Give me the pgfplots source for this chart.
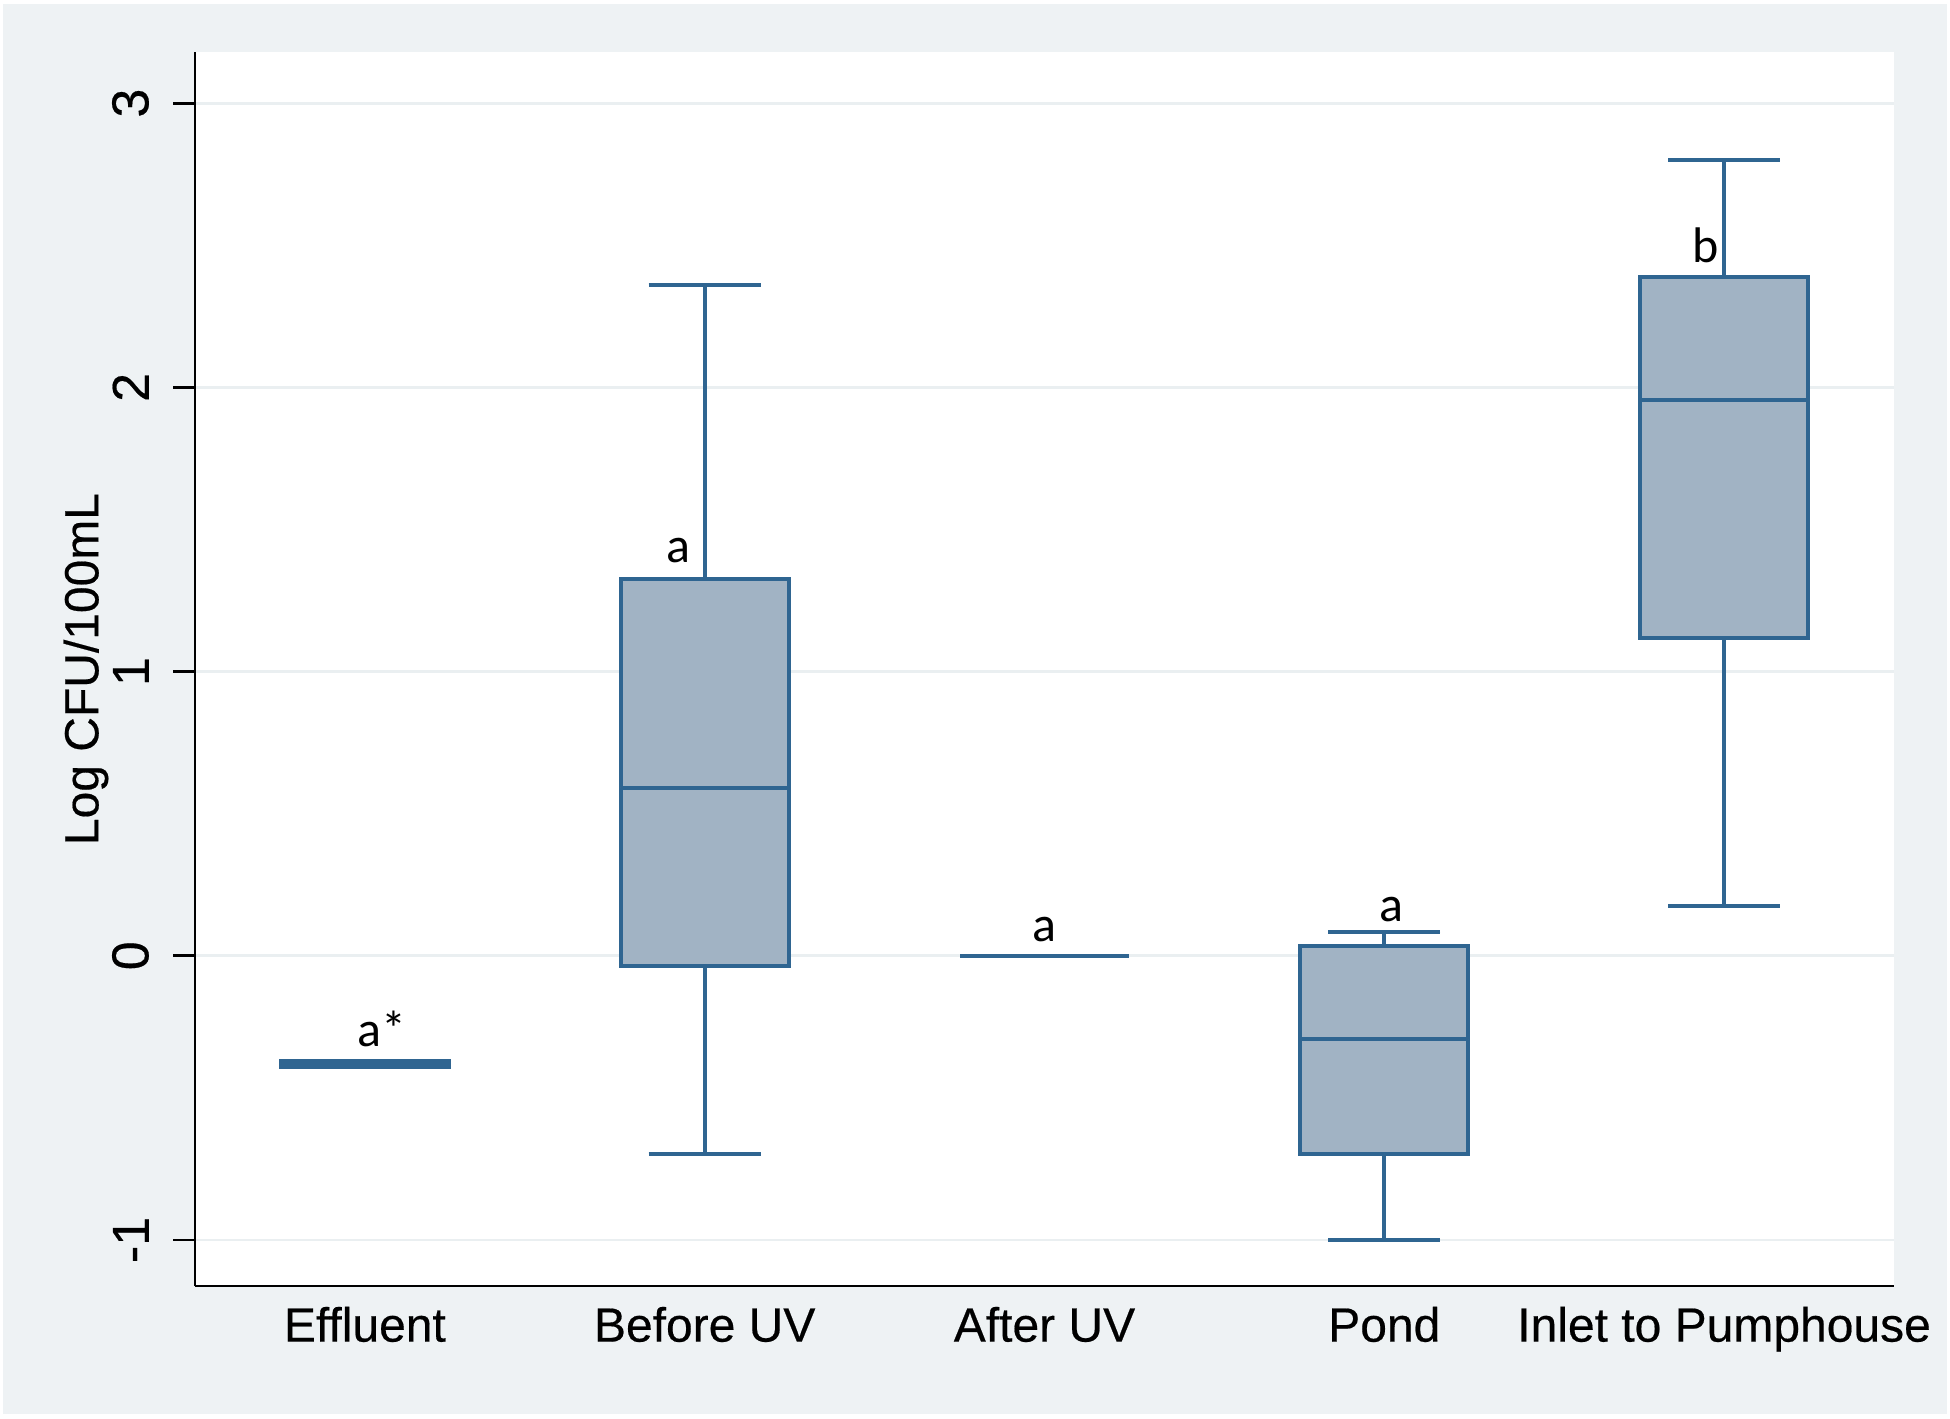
\documentclass[border=0pt]{standalone}
\usepackage{fontspec}
\setmainfont{Liberation Sans}[BoldFont={Liberation Sans}, BoldFeatures={FakeBold=0.4}]
\newfontfamily\calib{Carlito}
\usepackage{pgfplots}
\pgfplotsset{compat=1.18}
\usepgfplotslibrary{statistics}

\definecolor{bgc}{RGB}{238,242,244}
\definecolor{gridc}{RGB}{234,239,241}
\definecolor{edgec}{RGB}{47,101,145}
\definecolor{fillc}{RGB}{161,179,196}

\begin{document}
\begin{tikzpicture}
% page background (1px = 0.25pt)
\fill[white] (0,0) rectangle (487.5pt,354.5pt);
\fill[bgc] (0.75pt,1pt) rectangle (486.75pt,353.5pt);
\begin{axis}[
  at={(48.75pt,33pt)}, anchor=south west,
  scale only axis, width=424.75pt, height=308.5pt,
  xmin=0.5, xmax=5.5, ymin=-1.162, ymax=3.18,
  xtick={1,2,3,4,5},
  xticklabels={Effluent,Before UV,After UV,Pond,Inlet to Pumphouse},
  ytick={-1,0,1,2,3}, yticklabels={-1,0,1,2,3},
  axis x line*=bottom, axis y line*=left,
  axis line style={black, line width=0.7pt},
  tick align=outside, major tick length=5.5pt,
  x tick style={draw=none},
  y tick style={black, line width=0.7pt},
  ymajorgrids, major grid style={gridc, line width=0.7pt},
  axis background/.style={fill=white},
  xticklabel style={font=\fontsize{12}{14}\selectfont\bfseries, anchor=base, yshift=-8.4pt},
  % rotated labels: yshift moves them away from the axis
  yticklabel style={font=\fontsize{13}{15}\selectfont\bfseries, rotate=90, anchor=south, yshift=2.5pt},
  ylabel={Log CFU/100mL},
  every axis y label/.style={font=\fontsize{12}{14}\selectfont\bfseries,
    at={(axis description cs:-0.0642,0.5)}, rotate=90, anchor=center},
  boxplot/draw direction=y,
  boxplot/box extend=0.495, boxplot/whisker extend=0.33,
  every axis plot/.append style={draw=edgec, fill=fillc, line width=1pt},
]
% Effluent
\addplot[boxplot prepared={draw position=1, lower whisker=-0.393, lower quartile=-0.393,
  median=-0.38, upper quartile=-0.370, upper whisker=-0.370}] coordinates {};
% Before UV
\addplot[boxplot prepared={draw position=2, lower whisker=-0.697, lower quartile=-0.035,
  median=0.591, upper quartile=1.327, upper whisker=2.361}] coordinates {};
% After UV
\addplot[boxplot prepared={draw position=3, lower whisker=0, lower quartile=0,
  median=0, upper quartile=0, upper whisker=0}] coordinates {};
% Pond
\addplot[boxplot prepared={draw position=4, lower whisker=-1.0, lower quartile=-0.697,
  median=-0.294, upper quartile=0.035, upper whisker=0.083}] coordinates {};
% Inlet to Pumphouse
\addplot[boxplot prepared={draw position=5, lower whisker=0.175, lower quartile=1.117,
  median=1.954, upper quartile=2.388, upper whisker=2.80}] coordinates {};

\node[font=\calib\fontsize{12.5}{14}\selectfont, anchor=base] at (axis cs:1.05,-0.32) {a*};
\node[font=\calib\fontsize{12.5}{14}\selectfont, anchor=base] at (axis cs:1.924,1.385) {a};
\node[font=\calib\fontsize{12.5}{14}\selectfont, anchor=base] at (axis cs:3.0,0.05) {a};
\node[font=\calib\fontsize{12.5}{14}\selectfont, anchor=base] at (axis cs:4.02,0.12) {a};
\node[font=\calib\fontsize{12.5}{14}\selectfont, anchor=base] at (axis cs:4.947,2.438) {b};
\end{axis}
\pgfresetboundingbox
\path[use as bounding box] (0,0) rectangle (487.5pt,354.5pt);
\end{tikzpicture}
\end{document}
